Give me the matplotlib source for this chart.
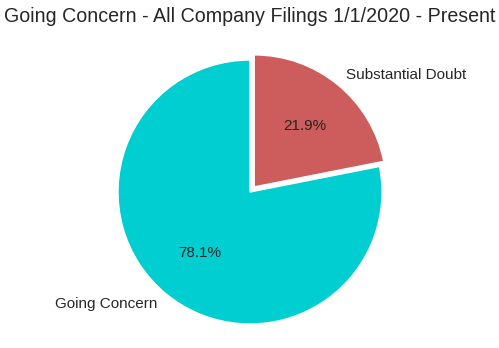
import matplotlib
matplotlib.use('Agg')
import matplotlib.pyplot as plt

labels = ['Going Concern', 'Substantial Doubt']
shares = [78.1, 21.9]
colors = ['#00CED1', '#CD5C5C']
explode = [0, 0.05]

plt.rcParams['font.family'] = ['Liberation Sans', 'DejaVu Sans']
plt.rcParams['text.color'] = '#262626'

fig = plt.figure(figsize=(4.99, 3.48), dpi=100, facecolor='white')
ax = fig.add_axes([0, 0, 1, 1])

# scale: 132 px per unit radius, pie centre at (250, 192) from top-left
r_px = 132
ax.pie(shares, labels=labels, colors=colors, explode=explode,
       autopct='%1.1f%%', startangle=90,
       wedgeprops={'edgecolor': 'white', 'linewidth': 1},
       textprops={'fontsize': 11, 'color': '#262626'})
ax.set_xlim(-250 / r_px, 249 / r_px)
ax.set_ylim(-(348 - 192) / r_px, 192 / r_px)
ax.set_aspect('auto')
ax.axis('off')

fig.text(0.5, 1 - 17 / 348, 'Going Concern - All Company Filings 1/1/2020 - Present',
         ha='center', va='center', fontsize=14.1, color='#262626')

fig.savefig('out.png', dpi=100, facecolor='white')
